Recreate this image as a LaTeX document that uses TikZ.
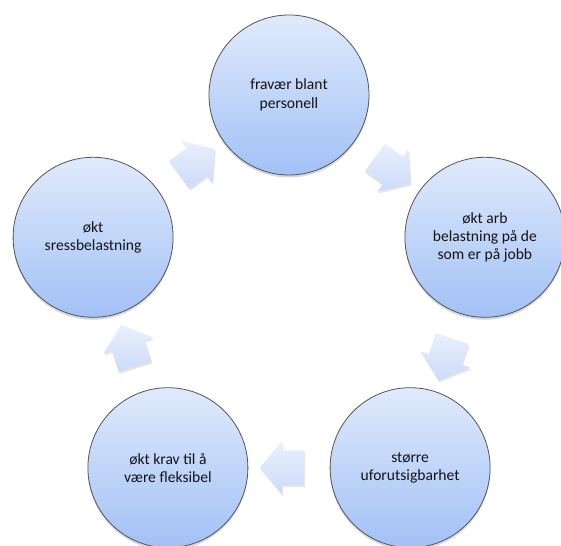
\documentclass[tikz,border=0pt]{standalone}
\usepackage{fontspec}
\setmainfont{Carlito}
\usetikzlibrary{shapes.arrows,shadows,calc}
\definecolor{circTop}{RGB}{224,234,252}
\definecolor{circBot}{RGB}{162,193,246}
\definecolor{circLine}{RGB}{85,85,85}
\definecolor{arrTop}{RGB}{234,240,253}
\definecolor{arrBot}{RGB}{204,219,249}
\definecolor{txt}{RGB}{20,20,20}
\begin{document}
\begin{tikzpicture}[x=1pt,y=1pt,
  cyclecircle/.style={circle, minimum size=160pt, inner sep=0pt,
    draw=circLine, line width=0.8pt, top color=circTop, bottom color=circBot,
    align=center, text=txt, font=\fontsize{15.6}{18.3}\selectfont,
    drop shadow={shadow xshift=0pt, shadow yshift=-2.5pt, opacity=0.3}},
  blockarrow/.style={single arrow, minimum height=44pt,
    inner xsep=2pt, inner ysep=17pt,
    single arrow head extend=9pt, single arrow tip angle=100,
    top color=arrTop, bottom color=arrBot, draw=none,
    drop shadow={shadow xshift=1pt, shadow yshift=-2pt, opacity=0.2}}]
\useasboundingbox (0,0) rectangle (561,545);
\fill[white] (0,0) rectangle (561,545);
\clip (0,0) rectangle (561,545);
\node[cyclecircle] (c1) at (289,450) {fravær blant\\personell};
\node[cyclecircle] (c2) at (484.9,307.7) {økt arb\\belastning på de\\som er på jobb};
\node[cyclecircle] (c3) at (410.1,77.3) {større\\uforutsigbarhet};
\node[cyclecircle] (c4) at (167.9,77.3) {økt krav til å\\være fleksibel};
\node[cyclecircle] (c5) at (93.1,307.7) {økt\\sressbelastning};
\path (c1) -- (c2) node[midway, sloped, allow upside down, blockarrow] (a1) {};
\path (c2) -- (c3) node[midway, sloped, allow upside down, blockarrow] (a2) {};
\path (c3) -- (c4) node[midway, sloped, allow upside down, blockarrow] (a3) {};
\path (c4) -- (c5) node[midway, sloped, allow upside down, blockarrow] (a4) {};
\path (c5) -- (c1) node[midway, sloped, allow upside down, blockarrow] (a5) {};
\end{tikzpicture}
\end{document}
